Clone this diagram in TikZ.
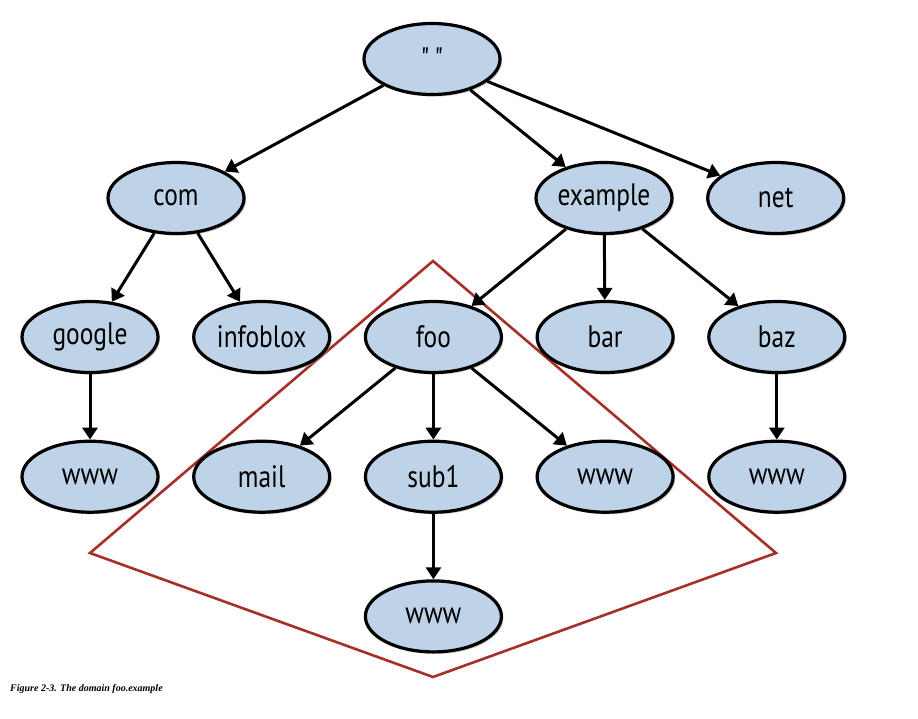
\documentclass[tikz,border=0pt]{standalone}
\usepackage{fontspec}
\setmainfont{Liberation Serif}
\newfontfamily\labelfont[FakeStretch=0.82]{PT Sans}
\usepackage{tikz}
\usetikzlibrary{positioning, arrows.meta, shadows, shapes}
\definecolor{nodeblue}{RGB}{190,210,232}
\definecolor{zonered}{RGB}{165,48,42}

\begin{document}
\begin{tikzpicture}[x=1pt, y=-1pt,
		dom/.style={ellipse, draw, line width=3.2pt, fill=nodeblue,
			minimum width=136pt, minimum height=71pt, inner sep=0pt,
			font=\labelfont\fontsize{31}{34}\selectfont,
			drop shadow={shadow xshift=2pt, shadow yshift=-2pt, fill=black!45, opacity=0.5}},
		arr/.style={-{Triangle[length=12pt, width=15pt]}, line width=3pt},
		node distance=65.5pt and 32.5pt]
		\useasboundingbox (0,0) rectangle (918,718);
		% the zone foo.example
		\draw[zonered, line width=2.6pt, line join=miter]
			(433,261) -- (776,553) -- (433,677) -- (90,553) -- cycle;
		
		\node[dom] (root) at (432,59) {"\,"};
		\node[dom] (com) at (176,198) {com};
		\node[dom] (example) at (604,198) {example};
		\node[dom, right=of example] (net) {net};
		
		\node[dom] (google) at (90,337) {google};
		\node[dom, right=of google] (infoblox) {infoblox};
		\node[dom, right=of infoblox] (foo) {foo};
		\node[dom, right=of foo] (bar) {bar};
		\node[dom, right=of bar] (baz) {baz};
		
		\node[dom, below=of google] (googlewww) {www};
		\node[dom, below=of infoblox] (mail) {mail};
		\node[dom, below=of foo] (sub1) {sub1};
		\node[dom, below=of bar] (foowww) {www};
		\node[dom, below=of baz] (bazwww) {www};
		\node[dom, below=of sub1] (subwww) {www};
		
		\draw[arr] (root) -- (com);
		\draw[arr] (root) -- (example);
		\draw[arr] (root) -- (net);
		\draw[arr] (com) -- (google);
		\draw[arr] (com) -- (infoblox);
		\draw[arr] (example) -- (foo);
		\draw[arr] (example) -- (bar);
		\draw[arr] (example) -- (baz);
		\draw[arr] (google) -- (googlewww);
		\draw[arr] (foo) -- (mail);
		\draw[arr] (foo) -- (sub1);
		\draw[arr] (foo) -- (foowww);
		\draw[arr] (baz) -- (bazwww);
		\draw[arr] (sub1) -- (subwww);
		
		\node[anchor=base west, inner sep=0pt, font=\fontsize{10}{12}\selectfont\bfseries\itshape]
			(caption) at (10,691) {Figure 2-3. The domain foo.example};
	\end{tikzpicture}
\end{document}
